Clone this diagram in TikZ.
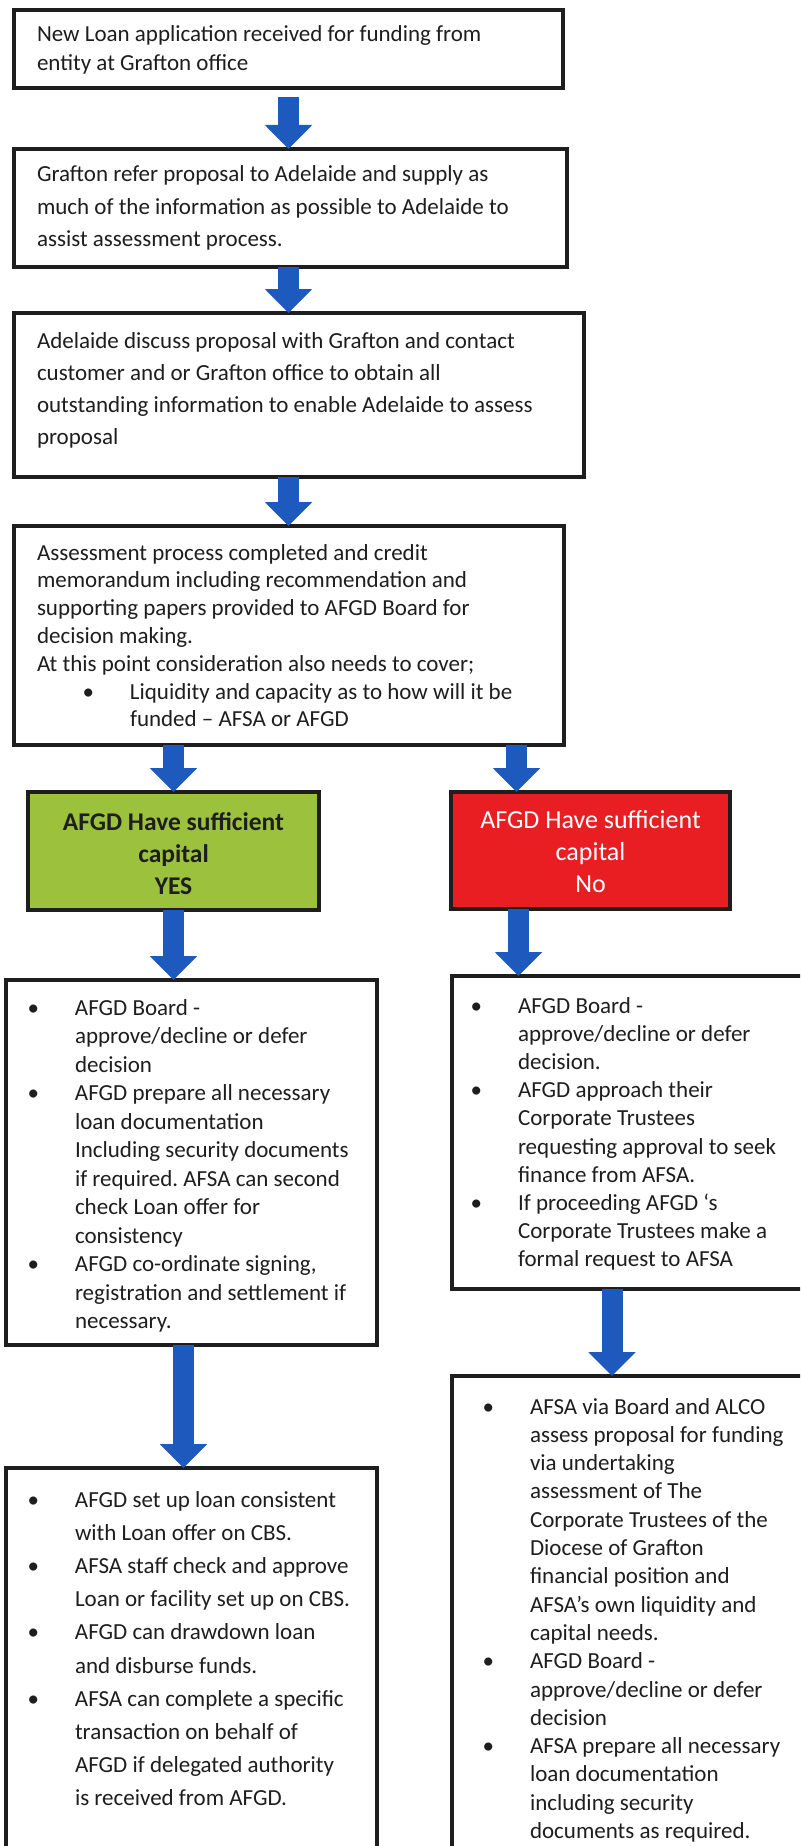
\documentclass[tikz,border=0pt]{standalone}
\usepackage{fontspec}
\setmainfont{Carlito}
\usetikzlibrary{arrows.meta}
\frenchspacing
\definecolor{arrowblue}{HTML}{1E5ABE}
\definecolor{yesgreen}{HTML}{9CC13C}
\definecolor{nored}{HTML}{E81E23}
\definecolor{ink}{HTML}{1E1E1E}
\newcommand{\txtblock}[3]{\fontsize{#1}{#2}\selectfont\begin{tabular}[t]{@{}l@{}}#3\end{tabular}}
\newcommand{\ctrblock}[3]{\fontsize{#1}{#2}\selectfont\begin{tabular}[t]{@{}c@{}}#3\end{tabular}}
\newcommand{\bul}{\llap{\textbullet\hspace{36pt}}}
\tikzset{
  box/.style={draw=ink, line width=3.5pt, rectangle, anchor=north west, inner sep=0pt, outer sep=0pt},
  txt/.style={anchor=base west, inner sep=0pt, outer sep=0pt, text=ink},
  ctxt/.style={anchor=base, inner sep=0pt, outer sep=0pt},
  flow/.style={draw=arrowblue, line width=21pt, -{Triangle[width=46pt,length=24pt]}}
}
\begin{document}
\begin{tikzpicture}[x=1pt,y=-1pt]
\useasboundingbox (0,0) rectangle (800,1846);
\fill[white] (0,0) rectangle (800,1846);
\clip (0,0) rectangle (800,1846);

% boxes
\node[box, minimum width=549pt, minimum height=78pt] (b1) at (14,10) {};
\node[box, minimum width=553pt, minimum height=118pt] (b2) at (14,149) {};
\node[box, minimum width=570pt, minimum height=164pt] (b3) at (14,313) {};
\node[box, minimum width=550pt, minimum height=219pt] (b4) at (14,526) {};
\node[box, fill=yesgreen, minimum width=291pt, minimum height=118pt] (yes) at (28,792) {};
\node[box, fill=nored, minimum width=279pt, minimum height=117pt] (no) at (451,792) {};
\node[box, minimum width=371pt, minimum height=365pt] (b5) at (6,980) {};
\node[box, minimum width=368pt, minimum height=313pt] (b6) at (452,976) {};
\node[box, minimum width=371pt, minimum height=402pt] (b7) at (6,1468) {};
\node[box, minimum width=368pt, minimum height=494pt] (b8) at (452,1376) {};

% texts
\node[txt] (t1) at (37,42) {\txtblock{23}{29}{New Loan application received for funding from\\ entity at Grafton office}};
\node[txt] (t2) at (37,182) {\txtblock{23}{32.5}{Grafton refer proposal to Adelaide and supply as\\ much of the information as possible to Adelaide to\\ assist assessment process.}};
\node[txt] (t3) at (37,348) {\txtblock{23}{32.3}{Adelaide discuss proposal with Grafton and contact\\ customer and or Grafton office to obtain all\\ outstanding information to enable Adelaide to assess\\ proposal}};
\node[txt] (t4) at (37,560) {\txtblock{23}{27.8}{Assessment process completed and credit\\ memorandum including recommendation and\\ supporting papers provided to AFGD Board for\\ decision making.\\ At this point consideration also needs to cover;\\ \hspace{93pt}\bul Liquidity and capacity as to how will it be\\ \hspace{93pt}funded -- AFSA or AFGD}};
\node[ctxt, text=ink] (t5) at (173.5,830) {\bfseries\ctrblock{25.5}{32}{AFGD Have sufficient\\ capital\\ YES}};
\node[ctxt, text=white] (t6) at (590.5,828) {\ctrblock{26}{32}{AFGD Have sufficient\\ capital\\ No}};
\node[txt] (t7) at (75,1015) {\txtblock{23}{28.5}{\bul AFGD Board -\\ approve/decline or defer\\ decision\\ \bul AFGD prepare all necessary\\ loan documentation\\ Including security documents\\ if required. AFSA can second\\ check Loan offer for\\ consistency\\ \bul AFGD co-ordinate signing,\\ registration and settlement if\\ necessary.}};
\node[txt] (t8) at (518,1013) {\txtblock{23}{28.2}{\bul AFGD Board -\\ approve/decline or defer\\ decision.\\ \bul AFGD approach their\\ Corporate Trustees\\ requesting approval to seek\\ finance from AFSA.\\ \bul If proceeding AFGD ‘s\\ Corporate Trustees make a\\ formal request to AFSA}};
\node[txt] (t9) at (75,1507) {\txtblock{23}{33.2}{\bul AFGD set up loan consistent\\ with Loan offer on CBS.\\ \bul AFSA staff check and approve\\ Loan or facility set up on CBS.\\ \bul AFGD can drawdown loan\\ and disburse funds.\\ \bul AFSA can complete a specific\\ transaction on behalf of\\ AFGD if delegated authority\\ is received from AFGD.}};
\node[txt] (t10) at (530,1414) {\txtblock{23}{28.3}{\bul AFSA via Board and ALCO\\ assess proposal for funding\\ via undertaking\\ assessment of The\\ Corporate Trustees of the\\ Diocese of Grafton\\ financial position and\\ AFSA’s own liquidity and\\ capital needs.\\ \bul AFGD Board -\\ approve/decline or defer\\ decision\\ \bul AFSA prepare all necessary\\ loan documentation\\ including security\\ documents as required.}};

% arrows
\draw[flow] ([yshift=-9pt]b1.south) -- (b1.south |- b2.north);
\draw[flow] (b1.south |- b2.south) -- (b1.south |- b3.north);
\draw[flow] (b1.south |- b3.south) -- (b1.south |- b4.north);
\draw[flow] (yes.north |- b4.south) -- (yes.north);
\draw[flow] ([xshift=-74pt]no.north |- b4.south) -- ([xshift=-74pt]no.north);
\draw[flow] (yes.south) -- (yes.south |- b5.north);
\draw[flow] ([xshift=-72pt]no.south) -- ([xshift=-72pt]no.south |- b6.north);
\draw[flow] ([xshift=-8pt]b5.south) -- ([xshift=-8pt]b5.south |- b7.north);
\draw[flow] ([xshift=160pt]b6.south west) -- ([xshift=160pt]b6.south west |- b8.north);
\end{tikzpicture}
\end{document}
